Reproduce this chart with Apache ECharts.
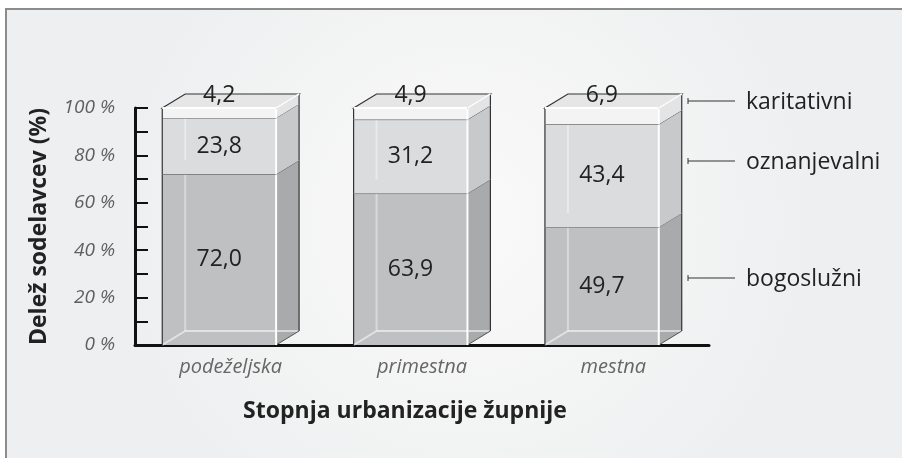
<!DOCTYPE html>
<html>
<head>
<meta charset="utf-8">
<script src="https://cdn.jsdelivr.net/npm/echarts@6/dist/echarts.min.js"></script>
<style>
  html, body { margin: 0; padding: 0; background: #fff; }
  #main { width: 902px; height: 458px; }
</style>
</head>
<body>
<div id="main"></div>
<script>
  // podatki
  const categories = ['podeželjska', 'primestna', 'mestna'];
  const bogosluzni = [72.0, 63.9, 49.7];
  const oznanjevalni = [23.8, 31.2, 43.4];
  const karitativni = [4.2, 4.9, 6.9];
  const seriesNames = ['bogoslužni', 'oznanjevalni', 'karitativni'];
  const yAxisTitle = 'Delež sodelavcev (%)';
  const xAxisTitle = 'Stopnja urbanizacije župnije';

  const layers = [bogosluzni, oznanjevalni, karitativni];
  const frontColors = ['#bfc0c2', '#dbdcde', '#f3f3f4'];
  const sideColors = ['#a9aaac', '#c8c9cb', '#e3e4e5'];

  // kumulativno za sklade
  function layerData(k) {
    return categories.map(function (c, i) {
      let base = 0;
      for (let j = 0; j < k; j++) base += layers[j][i];
      return [i, base, base + layers[k][i], layers[k][i]];
    });
  }

  function fmt(v) {
    return v.toFixed(1).replace('.', ',');
  }

  function renderBox(params, api) {
    const k = params.seriesIndex;
    const i = api.value(0);
    const b = api.coord([i, api.value(1)]);
    const t = api.coord([i, api.value(2)]);
    const band = api.size([1, 0])[0];
    const w = band * 0.595, dx = band * 0.12, dy = 14;
    const xl = b[0] - (w + dx) / 2, xr = xl + w;
    const yB = b[1], yT = t[1];
    const dark = '#333';
    const glass = 'rgba(255,255,255,0.4)';
    const ch = [];

    ch.push({ type: 'rect', shape: { x: xl, y: yT, width: w, height: yB - yT },
      style: { fill: frontColors[k] } });
    ch.push({ type: 'polygon', shape: { points: [[xr, yT], [xr + dx, yT - dy], [xr + dx, yB - dy], [xr, yB]] },
      style: { fill: sideColors[k] } });
    // steklene notranje črte
    ch.push({ type: 'line', shape: { x1: xl + dx, y1: yT - dy, x2: xl + dx, y2: yB - dy },
      style: { stroke: glass, lineWidth: 2 } });
    if (k === 0) {
      ch.push({ type: 'line', shape: { x1: xl + dx, y1: yB - dy, x2: xr + dx, y2: yB - dy },
        style: { stroke: 'rgba(255,255,255,0.55)', lineWidth: 2 } });
      ch.push({ type: 'line', shape: { x1: xl, y1: yB, x2: xl + dx, y2: yB - dy },
        style: { stroke: 'rgba(255,255,255,0.55)', lineWidth: 2 } });
      ch.push({ type: 'line', shape: { x1: xr, y1: yB, x2: xr + dx, y2: yB - dy },
        style: { stroke: '#555', lineWidth: 1 } });
    }
    // robovi
    ch.push({ type: 'line', shape: { x1: xl, y1: yT, x2: xl, y2: yB }, style: { stroke: dark, lineWidth: 1.2 } });
    ch.push({ type: 'line', shape: { x1: xr + dx, y1: yT - dy, x2: xr + dx, y2: yB - dy }, style: { stroke: dark, lineWidth: 1.2 } });
    ch.push({ type: 'line', shape: { x1: xr, y1: yT, x2: xr, y2: yB }, style: { stroke: '#fff', lineWidth: 2 } });

    if (k < 2) {
      ch.push({ type: 'line', shape: { x1: xl, y1: yT, x2: xr, y2: yT }, style: { stroke: '#555', lineWidth: 1 } });
      ch.push({ type: 'line', shape: { x1: xr, y1: yT, x2: xr + dx, y2: yT - dy }, style: { stroke: '#666', lineWidth: 1 } });
      ch.push({ type: 'text', style: { text: fmt(api.value(3)), x: xl + w / 2, y: (yT + yB) / 2,
        fontFamily: 'Open Sans', fontSize: 23, fill: '#222', align: 'center', verticalAlign: 'middle' } });
    } else {
      ch.push({ type: 'polygon', shape: { points: [[xl, yT], [xl + dx, yT - dy], [xr + dx, yT - dy], [xr, yT]] },
        style: { fill: '#e6e6e7', stroke: dark, lineWidth: 1.2 } });
      ch.push({ type: 'line', shape: { x1: xl, y1: yT, x2: xr, y2: yT }, style: { stroke: '#fff', lineWidth: 2 } });
      ch.push({ type: 'line', shape: { x1: xr, y1: yT, x2: xr + dx, y2: yT - dy }, style: { stroke: '#fff', lineWidth: 2 } });
      ch.push({ type: 'text', style: { text: fmt(api.value(3)), x: xl + w / 2, y: yT - dy + 1,
        fontFamily: 'Open Sans', fontSize: 23, fill: '#222', align: 'center', verticalAlign: 'middle' } });
    }
    return { type: 'group', children: ch };
  }

  const myChart = echarts.init(document.getElementById('main'));

  const legendY = [278, 161, 101];
  const legendItems = [];
  seriesNames.forEach(function (name, k) {
    legendItems.push({ type: 'line', shape: { x1: 688, y1: legendY[k], x2: 735, y2: legendY[k] },
      style: { stroke: '#333', lineWidth: 1 } });
    legendItems.push({ type: 'line', shape: { x1: 688, y1: legendY[k] - 3, x2: 688, y2: legendY[k] + 3 },
      style: { stroke: '#333', lineWidth: 1 } });
    legendItems.push({ type: 'text', x: 746, y: legendY[k] + 1,
      style: { text: name, fontFamily: 'Open Sans', fontSize: 23, fill: '#222', verticalAlign: 'middle' } });
  });

  myChart.setOption({
    backgroundColor: '#fff',
    animation: false,
    graphic: [
      { type: 'rect', z: -10, shape: { x: 6, y: 9, width: 920, height: 470 },
        style: {
          fill: { type: 'radial', x: 0.5, y: 0.45, r: 0.75,
            colorStops: [{ offset: 0, color: '#fafafa' }, { offset: 1, color: '#eeeff0' }] },
          stroke: '#8c8c8c', lineWidth: 2
        } }
    ].concat(legendItems),
    grid: { left: 135, right: 193, top: 108, bottom: 113 },
    xAxis: {
      type: 'category',
      data: categories,
      name: xAxisTitle,
      nameLocation: 'middle',
      nameGap: 55,
      nameTextStyle: { fontFamily: 'Open Sans', fontSize: 23, fontWeight: 'bold', color: '#222', padding: [0, 34, 0, 0] },
      axisLine: { lineStyle: { color: '#111', width: 3 } },
      axisTick: { inside: true, length: 6, lineStyle: { color: '#111', width: 2 } },
      axisLabel: { fontFamily: 'Open Sans', fontSize: 20, fontStyle: 'italic', color: '#666', margin: 12 }
    },
    yAxis: {
      type: 'value',
      min: 0,
      max: 100,
      interval: 10,
      name: yAxisTitle,
      nameLocation: 'middle',
      nameGap: 84,
      nameTextStyle: { fontFamily: 'Open Sans', fontSize: 23, fontWeight: 'bold', color: '#222' },
      axisLine: { show: true, lineStyle: { color: '#111', width: 3 } },
      axisTick: { show: true, inside: true, length: 13, lineStyle: { color: '#111', width: 2 } },
      splitLine: { show: false },
      axisLabel: {
        fontFamily: 'Open Sans', fontSize: 19, fontStyle: 'italic', color: '#5f5f5f', margin: 20,
        padding: [0, 0, 4, 0],
        formatter: function (v) { return v % 20 === 0 ? v + ' %' : ''; }
      }
    },
    series: layers.map(function (arr, k) {
      return {
        type: 'custom',
        name: seriesNames[k],
        renderItem: renderBox,
        encode: { x: 0, y: [1, 2] },
        data: layerData(k)
      };
    })
  });
</script>
</body>
</html>
